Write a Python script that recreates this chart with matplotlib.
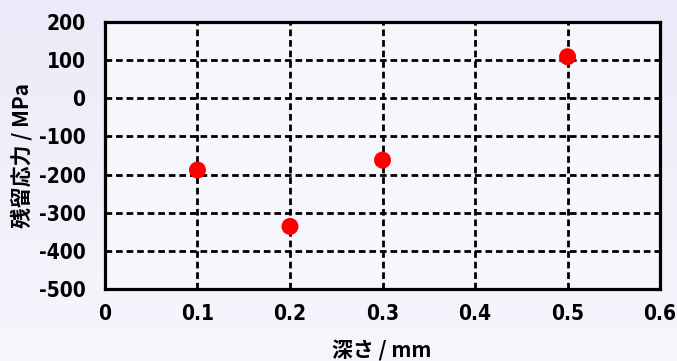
import matplotlib
matplotlib.use("Agg")
import matplotlib.pyplot as plt
import numpy as np
from matplotlib.colors import LinearSegmentedColormap
from matplotlib import font_manager as fm

depth = [0.1, 0.2, 0.3, 0.5]
stress = [-188, -336, -162, 109]
xticks = [0, 0.1, 0.2, 0.3, 0.4, 0.5, 0.6]
xtick_labels = ["0", "0.1", "0.2", "0.3", "0.4", "0.5", "0.6"]
yticks = [-500, -400, -300, -200, -100, 0, 100, 200]
ytick_labels = ["-500", "-400", "-300", "-200", "-100", "0", "100", "200"]
xlabel = "深さ / mm"
ylabel = "残留応力 / MPa"

plt.rcParams['font.family'] = ['Noto Sans CJK JP', 'DejaVu Sans']

# pick a condensed face for tick numbers if one is installed
cond_path = None
for f in fm.fontManager.ttflist:
    n = (f.name + " " + str(f.fname)).lower()
    if ("condensed" in n or "narrow" in n) and f.weight in ("bold", 700) and "oblique" not in n and "italic" not in n:
        cond_path = f.fname
        break
if cond_path:
    tick_fp = fm.FontProperties(fname=cond_path, size=15)
else:
    tick_fp = fm.FontProperties(family=['Liberation Sans', 'DejaVu Sans'], weight='bold', size=14)

fig = plt.figure(figsize=(6.77, 3.61), dpi=100)
bg = fig.add_axes([0, 0, 1, 1], zorder=-10)
grad = np.linspace(0, 1, 256).reshape(-1, 1)
cmap_bg = LinearSegmentedColormap.from_list("bg", ["#ebeaf8", "#f6f6fd"])
bg.imshow(grad, aspect="auto", cmap=cmap_bg, extent=[0, 1, 0, 1])
bg.set_axis_off()

ax = fig.add_axes([0.155, 0.1994, 0.82, 0.7396])
ax.set_facecolor("#f6f6fd")
ax.scatter(depth, stress, s=150, color="#ff0000", zorder=5, edgecolors="none")

ax.set_xlim(0, 0.6)
ax.set_ylim(-500, 200)
ax.set_xticks(xticks)
ax.set_xticklabels(xtick_labels)
ax.set_yticks(yticks)
ax.set_yticklabels(ytick_labels)
ax.tick_params(axis='y', length=0, pad=14)
ax.tick_params(axis='x', length=0, pad=11)
for lab in ax.get_xticklabels() + ax.get_yticklabels():
    lab.set_fontproperties(tick_fp)
ax.grid(True, color="black", linestyle=(0, (2.4, 1.4)), linewidth=2)
ax.set_axisbelow(True)
for sp in ax.spines.values():
    sp.set_linewidth(2.3)
    sp.set_color("black")
    sp.set_zorder(6)

fig.text(22 / 677, 1 - 155 / 361, ylabel, rotation=90, fontsize=15,
         fontweight='bold', ha='center', va='center')
fig.text(382 / 677, 1 - 351 / 361, xlabel, fontsize=15,
         fontweight='bold', ha='center', va='center')

fig.savefig("out.png", dpi=100)
